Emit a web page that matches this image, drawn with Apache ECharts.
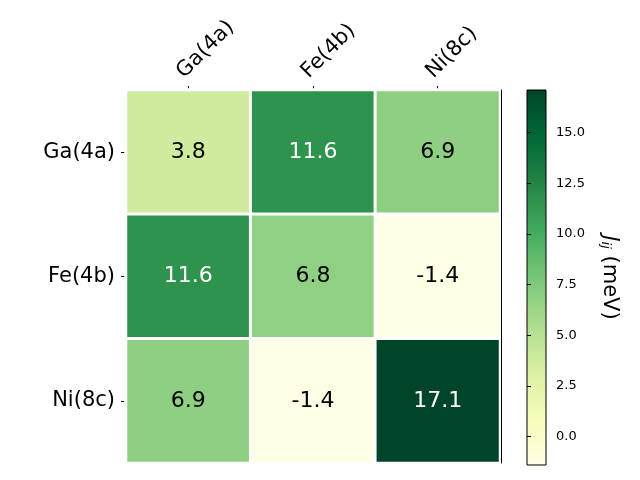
<!DOCTYPE html>
<html><head><meta charset="utf-8">
<script src="https://cdn.jsdelivr.net/npm/echarts@6/dist/echarts.min.js"></script>
<style>html,body{margin:0;padding:0;background:#fff}#c{width:640px;height:480px}</style>
</head><body><div id="c"></div>
<script>
const xCats = ['Ga(4a)', 'Fe(4b)', 'Ni(8c)'];
const yCats = ['Ga(4a)', 'Fe(4b)', 'Ni(8c)'];
const values = [
  [3.8, 11.6, 6.9],
  [11.6, 6.8, -1.4],
  [6.9, -1.4, 17.1]
];
const vMin = -1.4, vMax = 17.1;
const cbTicks = [0, 2.5, 5, 7.5, 10, 12.5, 15];
const ylgn = ['#ffffe5', '#f7fcb9', '#d9f0a3', '#addd8e', '#78c679', '#41ab5d', '#238443', '#006837', '#004529'];

const FONT = 'DejaVu Sans';
const data = [];
values.forEach((row, i) => row.forEach((v, j) => {
  const t = (v - vMin) / (vMax - vMin);
  data.push({ value: [j, i, v], label: { color: t > 0.6 ? '#fff' : '#000' } });
}));

const chart = echarts.init(document.getElementById('c'), null, { renderer: 'canvas' });
chart.setOption({
  backgroundColor: '#fff',
  animation: false,
  textStyle: { fontFamily: FONT },
  grid: [
    { left: 126, right: 140, top: 90, bottom: 17 },
    { left: 527, width: 19, top: 90, height: 375, show: true, borderColor: '#000', borderWidth: 1,
      backgroundColor: { type: 'linear', x: 0, y: 1, x2: 0, y2: 0,
        colorStops: ylgn.map((c, k) => ({ offset: k / (ylgn.length - 1), color: c })) } }
  ],
  xAxis: [
    { type: 'category', data: xCats, position: 'top', gridIndex: 0,
      axisLine: { show: false },
      axisTick: { show: true, alignWithLabel: true, length: 4, lineStyle: { color: '#000' } },
      axisLabel: { rotate: -45, fontSize: 21, lineHeight: 23, color: '#000', fontFamily: FONT, margin: 7,
        formatter: v => v + '\n ' },
      splitLine: { show: false } },
    { type: 'value', gridIndex: 1, show: false, min: 0, max: 1 }
  ],
  yAxis: [
    { type: 'category', data: yCats, inverse: true, gridIndex: 0,
      axisLine: { show: false },
      axisTick: { show: true, alignWithLabel: true, length: 5, lineStyle: { color: '#000' } },
      axisLabel: { fontSize: 21, color: '#000', fontFamily: FONT, margin: 11 },
      splitLine: { show: false } },
    { type: 'category', data: yCats, inverse: true, gridIndex: 0, position: 'right', offset: 1,
      axisLine: { show: true, onZero: false, lineStyle: { color: '#000', width: 1 } },
      axisTick: { show: false }, axisLabel: { show: false }, z: 10 },
    { type: 'value', gridIndex: 1, position: 'right', min: vMin, max: vMax,
      axisLine: { show: false },
      axisTick: { show: true, length: 4, customValues: cbTicks, lineStyle: { color: '#000' } },
      axisLabel: { show: true, customValues: cbTicks, fontSize: 13, color: '#000', fontFamily: FONT, margin: 10,
        formatter: v => Number(v).toFixed(1) },
      splitLine: { show: false },
      name: '{i|J}{s|ij} (meV)', nameLocation: 'middle', nameRotate: -90, nameGap: 53,
      nameTextStyle: { fontSize: 21, color: '#000', fontFamily: FONT,
        rich: { i: { fontSize: 21, fontStyle: 'italic', fontFamily: FONT },
                s: { fontSize: 13, fontStyle: 'italic', fontFamily: FONT, verticalAlign: 'bottom', padding: [8, 0, 0, 0] } } } }
  ],
  visualMap: { show: false, min: vMin, max: vMax, dimension: 2, seriesIndex: 0, inRange: { color: ylgn } },
  series: [{
    type: 'heatmap', xAxisIndex: 0, yAxisIndex: 0, data: data,
    itemStyle: { borderColor: '#fff', borderWidth: 3 },
    label: { show: true, fontSize: 22, fontFamily: FONT, formatter: p => p.value[2].toFixed(1) },
    emphasis: { disabled: true }
  }]
});
</script></body></html>
